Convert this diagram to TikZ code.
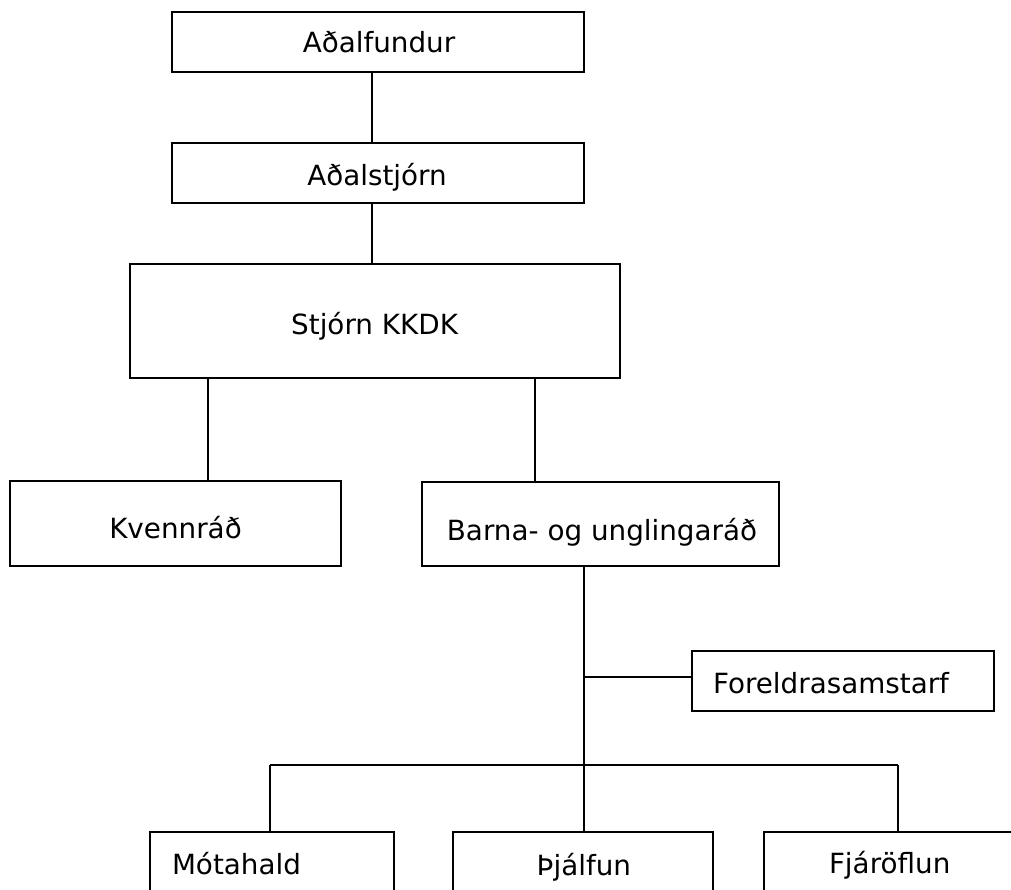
\documentclass[tikz,border=0pt]{standalone}
\usepackage{fontspec}
\setmainfont{DejaVu Sans}
\begin{document}
\begin{tikzpicture}[x=1pt,y=-1pt,
  box/.style={draw=black,line width=2pt,rectangle,inner sep=0pt,outer sep=0pt,fill=none},
  txt/.style={inner sep=0pt,outer sep=0pt,font=\fontsize{27.8}{33}\selectfont},
  conn/.style={draw=black,line width=1.8pt}]
\useasboundingbox (0,0) rectangle (1011,889);
\clip (0,0) rectangle (1011,889);
\fill[white] (0,0) rectangle (1011,889);
% boxes
\node[box,minimum width=412pt,minimum height=60pt] (af) at (378,42) {};
\node[box,minimum width=412pt,minimum height=60pt] (as) at (378,173) {};
\node[box,minimum width=490.5pt,minimum height=114pt] (st) at (374.75,320.6) {};
\node[box,minimum width=331.5pt,minimum height=85pt] (kv) at (175.25,523.5) {};
\node[box,minimum width=357pt,minimum height=84pt] (ba) at (600.5,523.5) {};
\node[box,minimum width=302pt,minimum height=60pt] (fo) at (843,681) {};
\node[box,minimum width=244pt,minimum height=118pt] (mo) at (272,891) {};
\node[box,minimum width=260pt,minimum height=118pt] (tj) at (583.3,891) {};
\node[box,minimum width=296pt,minimum height=118pt] (fj) at (912.3,891) {};
% texts
\node[txt,anchor=base] (taf) at (379,52) {Aðalfundur};
\node[txt,anchor=base] (tas) at (377,185) {Aðalstjórn};
\node[txt,anchor=base] (tst) at (374.6,334.6) {Stjórn KKDK};
\node[txt,anchor=base] (tkv) at (175.5,538) {Kvennráð};
\node[txt,anchor=base] (tba) at (602,540) {Barna- og unglingaráð};
\node[txt,anchor=base west] (tfo) at (713,693) {Foreldrasamstarf};
\node[txt,anchor=base west] (tmo) at (172,874) {Mótahald};
\node[txt,anchor=base west] (ttj) at (536.7,875) {Þjálfun};
\node[txt,anchor=base west] (tfj) at (829,873) {Fjáröflun};
% connector coordinates
\coordinate (x1) at (372.3,0);
\coordinate (x2) at (208,0);
\coordinate (x3) at (535,0);
\coordinate (j1) at (584,677);
\coordinate (j2) at (584,765);
\coordinate (jl) at (270,765);
\coordinate (jr) at (898,765);
% connectors
\draw[conn] (af.south -| x1) -- (as.north -| x1);
\draw[conn] (as.south -| x1) -- (st.north -| x1);
\draw[conn] (st.south -| x2) -- (kv.north -| x2);
\draw[conn] (st.south -| x3) -- (ba.north -| x3);
\draw[conn] (ba.south -| j2) -- (j2);
\draw[conn] (j1) -- (fo.west |- j1);
\draw[conn] (jl) -- (jr);
\draw[conn] (jl) -- (mo.north -| jl);
\draw[conn] (j2) -- (tj.north -| j2);
\draw[conn] (jr) -- (fj.north -| jr);
\end{tikzpicture}
\end{document}
